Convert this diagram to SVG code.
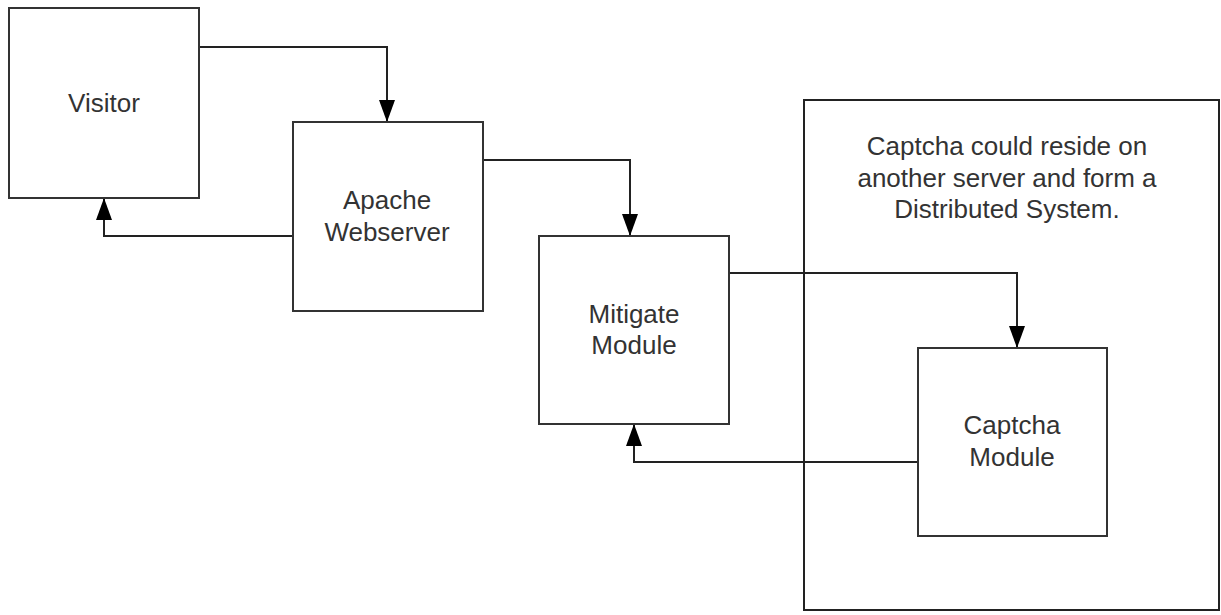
<svg xmlns="http://www.w3.org/2000/svg" width="1221" height="615" viewBox="0 0 1221 615">
<defs>
<marker id="arr" viewBox="0 0 22 16" refX="22" refY="8" markerWidth="22" markerHeight="16" markerUnits="userSpaceOnUse" orient="auto">
<path d="M0,0 L22,8 L0,16 Z" fill="#000"/>
</marker>
<style>
.box{fill:#fff;stroke:#333;stroke-width:2}
.grp{fill:none;stroke:#222;stroke-width:2}
text{font-family:'Liberation Sans',sans-serif;font-size:26px;fill:#333;text-anchor:middle}
.c{fill:none;stroke:#222;stroke-width:2;marker-end:url(#arr)}
</style>
</defs>
<g id="distributed">
<rect class="grp" x="804" y="100" width="415" height="510"/>
<text x="1007" y="155" font-family="Liberation Sans">Captcha could reside on</text>
<text x="1007" y="187" font-family="Liberation Sans">another server and form a</text>
<text x="1007" y="218" font-family="Liberation Sans">Distributed System.</text>
</g>
<g id="connectors">
<path class="c" d="M199,47 H387 V122"/>
<path class="c" d="M293,236 H104 V198"/>
<path class="c" d="M483,160 H630 V236"/>
<path class="c" d="M729,273 H1017 V348"/>
<path class="c" d="M918,462 H634 V424"/>
</g>
<g id="visitor">
<rect class="box" x="9" y="8" width="190" height="190"/>
<text x="104" y="112" font-family="Liberation Sans">Visitor</text>
</g>
<g id="apache">
<rect class="box" x="293" y="122" width="190" height="189"/>
<text x="387" y="209" font-family="Liberation Sans">Apache</text>
<text x="387" y="241" font-family="Liberation Sans">Webserver</text>
</g>
<g id="mitigate">
<rect class="box" x="539" y="236" width="190" height="188"/>
<text x="634" y="323" font-family="Liberation Sans">Mitigate</text>
<text x="634" y="354" font-family="Liberation Sans">Module</text>
</g>
<g id="captcha">
<rect class="box" x="918" y="348" width="189" height="188"/>
<text x="1012" y="434" font-family="Liberation Sans">Captcha</text>
<text x="1012" y="466" font-family="Liberation Sans">Module</text>
</g>
</svg>
